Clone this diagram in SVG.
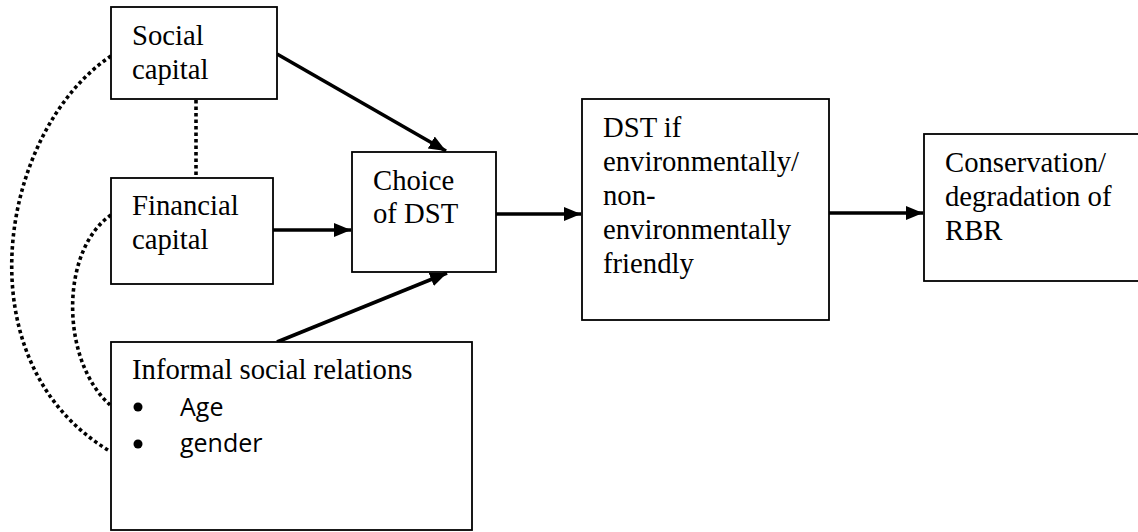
<svg xmlns="http://www.w3.org/2000/svg" width="1138" height="532" viewBox="0 0 1138 532">
<style>
.box{fill:#fff;stroke:#000;stroke-width:1.8}
.t{font-family:"Liberation Serif","Times New Roman",serif;font-size:28.7px;fill:#000}
.c{font-family:"Open Sans","Liberation Sans",sans-serif;font-size:25px;fill:#000}
.arr{stroke:#000;stroke-width:3.6;fill:none;marker-end:url(#ah)}
.dot{stroke:#000;stroke-width:3.6;fill:none;stroke-dasharray:3.5 3}
</style>
<defs>
<marker id="ah" markerUnits="userSpaceOnUse" markerWidth="19" markerHeight="16" refX="17" refY="7" orient="auto">
<path d="M0,0 L17,7 L0,14 z" fill="#000"/>
</marker>
</defs>
<rect width="1138" height="532" fill="#fff"/>
<g id="connectors">
<line class="dot" x1="196" y1="100" x2="196" y2="178"/>
<path class="dot" d="M111,56 C0,130 -40,360 108,450"/>
<path class="dot" d="M111,215 C60,250 60,360 110,405"/>
<line class="arr" x1="277" y1="54" x2="446" y2="151"/>
<line class="arr" x1="273" y1="230" x2="351" y2="230"/>
<line class="arr" x1="277" y1="342" x2="447" y2="273"/>
<line class="arr" x1="496" y1="214" x2="581" y2="214"/>
<line class="arr" x1="829" y1="213" x2="923" y2="213"/>
</g>
<g id="social-capital">
<rect class="box" x="111" y="7" width="166" height="92"/>
<text class="t" x="132" y="45">Social</text>
<text class="t" x="132" y="79">capital</text>
</g>
<g id="financial-capital">
<rect class="box" x="111" y="178" width="162" height="106"/>
<text class="t" x="132" y="215">Financial</text>
<text class="t" x="132" y="249">capital</text>
</g>
<g id="choice-of-dst">
<rect class="box" x="352" y="152" width="144" height="120"/>
<text class="t" x="373" y="190">Choice</text>
<text class="t" x="373" y="223">of DST</text>
</g>
<g id="dst-friendly">
<rect class="box" x="582" y="99" width="247" height="221"/>
<text class="t" x="603" y="137">DST if</text>
<text class="t" x="603" y="171">environmentally/</text>
<text class="t" x="603" y="205">non-</text>
<text class="t" x="603" y="239">environmentally</text>
<text class="t" x="603" y="273">friendly</text>
</g>
<g id="conservation">
<rect class="box" x="924" y="134" width="230" height="147"/>
<text class="t" x="945" y="172">Conservation/</text>
<text class="t" x="945" y="206">degradation of</text>
<text class="t" x="945" y="240">RBR</text>
</g>
<g id="informal-relations">
<rect class="box" x="111" y="342" width="361" height="188"/>
<text class="t" x="132" y="379">Informal social relations</text>
<circle cx="138" cy="407" r="4.5" fill="#000"/>
<text class="c" x="180" y="416">Age</text>
<circle cx="138" cy="444" r="4.5" fill="#000"/>
<text class="c" x="180" y="452">gender</text>
</g>
</svg>
